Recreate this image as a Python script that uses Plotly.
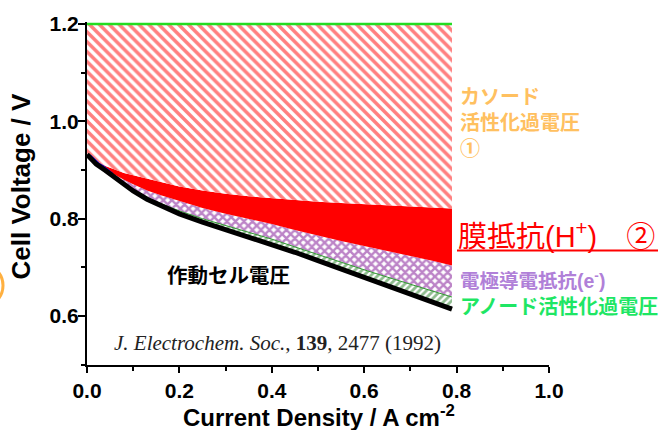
import plotly.graph_objects as go

# ---------------- data ----------------
current_density = [0, 0.01, 0.02, 0.04, 0.06, 0.08, 0.10, 0.13, 0.16, 0.20, 0.25,
                   0.30, 0.35, 0.40, 0.45, 0.50, 0.55, 0.60, 0.65, 0.70, 0.75, 0.79]
cell_voltage = [0.932, 0.921, 0.912, 0.899, 0.884, 0.870, 0.857, 0.840, 0.826, 0.810, 0.793,
                0.778, 0.763, 0.748, 0.731, 0.714, 0.697, 0.680, 0.663, 0.646, 0.629, 0.614]
anode_top = [0.932, 0.922, 0.913, 0.900, 0.886, 0.872, 0.860, 0.844, 0.831, 0.816, 0.800,
             0.786, 0.772, 0.758, 0.742, 0.726, 0.710, 0.695, 0.680, 0.665, 0.651, 0.639]
electrode_top = [0.932, 0.922, 0.913, 0.901, 0.890, 0.880, 0.871, 0.858, 0.848, 0.836, 0.822,
                 0.810, 0.800, 0.789, 0.777, 0.765, 0.754, 0.744, 0.734, 0.724, 0.713, 0.704]
membrane_top = [0.932, 0.925, 0.918, 0.908, 0.901, 0.894, 0.889, 0.882, 0.875, 0.866, 0.858,
                0.851, 0.846, 0.842, 0.838, 0.835, 0.832, 0.830, 0.828, 0.826, 0.823, 0.821]
theoretical_voltage = [1.2] * len(current_density)

blue_x = [0.006, 0.015, 0.025, 0.035, 0.045, 0.055]
blue_v = [0.930, 0.921, 0.913, 0.907, 0.899, 0.892]

x_tickvals = [0.0, 0.2, 0.4, 0.6, 0.8, 1.0]
x_ticktext = ["0.0", "0.2", "0.4", "0.6", "0.8", "1.0"]
y_tickvals = [0.6, 0.8, 1.0, 1.2]
y_ticktext = ["0.6", "0.8", "1.0", "1.2"]

# ---------------- layout helpers ----------------
L, R, T, B = 87, 112, 22, 65
W, H = 661, 430
PW, PH = W - L - R, H - T - B


def px(p):
    return (p - L) / PW


def py(p):
    return (H - B - p) / PH


SANS = "Liberation Sans, Arial, Noto Sans CJK JP, sans-serif"
CJK = "Liberation Sans, Noto Sans CJK JP, sans-serif"
SERIF = "Liberation Serif, Times New Roman, serif"

fig = go.Figure()

# base (cell voltage) - invisible, used as fill reference
fig.add_trace(go.Scatter(x=current_density, y=cell_voltage, mode="lines",
                         line=dict(width=0, color="black"), hoverinfo="skip", showlegend=False))
# anode activation overpotential
fig.add_trace(go.Scatter(x=current_density, y=anode_top, mode="lines", fill="tonexty",
                         line=dict(width=1, color="#2E9B2E"),
                         fillcolor="rgba(255,255,255,0)",
                         fillpattern=dict(shape="/", fgcolor="#1E7A1E", bgcolor="white",
                                          size=5, solidity=0.55),
                         hoverinfo="skip", showlegend=False))
# electrode conduction resistance
fig.add_trace(go.Scatter(x=current_density, y=electrode_top, mode="lines", fill="tonexty",
                         line=dict(width=0, color="#7A0A90"),
                         fillcolor="rgba(255,255,255,0)",
                         fillpattern=dict(shape="x", fgcolor="#7A0A90", bgcolor="white",
                                          size=6, solidity=0.65),
                         hoverinfo="skip", showlegend=False))
# membrane resistance
fig.add_trace(go.Scatter(x=current_density, y=membrane_top, mode="lines", fill="tonexty",
                         line=dict(width=0, color="red"), fillcolor="red",
                         hoverinfo="skip", showlegend=False))
# cathode activation overpotential (hatched)
fig.add_trace(go.Scatter(x=current_density, y=theoretical_voltage, mode="lines", fill="tonexty",
                         line=dict(width=2.5, color="#22DD22"),
                         fillcolor="rgba(255,255,255,0)",
                         fillpattern=dict(shape="\\", fgcolor="#FF0000", bgcolor="white",
                                          size=7, solidity=0.5),
                         hoverinfo="skip", showlegend=False))
# small blue sliver
fig.add_trace(go.Scatter(x=blue_x, y=blue_v, mode="lines",
                         line=dict(width=2.5, color="#1010EE"),
                         hoverinfo="skip", showlegend=False))
# working cell voltage curve
fig.add_trace(go.Scatter(x=current_density, y=cell_voltage, mode="lines",
                         line=dict(width=5, color="black"),
                         hoverinfo="skip", showlegend=False))

axis_common = dict(showgrid=False, zeroline=False, showline=True, linecolor="black",
                   linewidth=2, ticks="outside", tickcolor="black", tickwidth=1.5,
                   tickfont=dict(family=SANS, size=21, color="black", weight="bold"))

fig.update_xaxes(range=[0, 1.0], tickvals=x_tickvals, ticktext=x_ticktext, ticklen=6,
                 minor=dict(dtick=0.1, ticklen=4, ticks="outside", tickcolor="black", tickwidth=1.5),
                 **axis_common)
fig.update_yaxes(range=[0.4994, 1.2041], tickvals=y_tickvals, ticktext=y_ticktext, ticklen=7,
                 ticklabelstandoff=-5,
                 minor=dict(tickvals=[0.5, 0.7, 0.9, 1.1], ticklen=4, ticks="outside",
                            tickcolor="black", tickwidth=1.5),
                 **axis_common)

ann = []
ann.append(dict(x=px(20), y=py(186.5), xref="paper", yref="paper", showarrow=False,
                text="<b>Cell Voltage / V</b>", textangle=-90, xanchor="center", yanchor="middle",
                font=dict(family=SANS, size=26, color="black")))
ann.append(dict(x=px(319), y=py(416), xref="paper", yref="paper", showarrow=False,
                text="<b>Current Density / A cm<sup>-2</sup></b>", xanchor="center", yanchor="middle",
                font=dict(family=SANS, size=24, color="black")))
ann.append(dict(x=px(458), y=py(84), xref="paper", yref="paper", showarrow=False,
                text="<b>カソード<br>活性化過電圧<br>①</b>", xanchor="left", yanchor="top", align="left",
                font=dict(family=CJK, size=20, color="#FFC060")))
ann.append(dict(x=px(456), y=py(235), xref="paper", yref="paper", showarrow=False,
                text="膜抵抗(H<sup>+</sup>)　②", xanchor="left", yanchor="middle",
                font=dict(family=CJK, size=29, color="#FF0000")))
ann.append(dict(x=px(458), y=py(280), xref="paper", yref="paper", showarrow=False,
                text="<b>電極導電抵抗(e<sup>-</sup>)</b>", xanchor="left", yanchor="middle",
                font=dict(family=CJK, size=19.5, color="#B080D8")))
ann.append(dict(x=px(458), y=py(306.5), xref="paper", yref="paper", showarrow=False,
                text="<b>アノード活性化過電圧</b>", xanchor="left", yanchor="middle",
                font=dict(family=CJK, size=20, color="#1EE664")))
ann.append(dict(x=px(228.5), y=py(275), xref="paper", yref="paper", showarrow=False,
                text="<b>作動セル電圧</b>", xanchor="center", yanchor="middle",
                font=dict(family=CJK, size=20.5, color="black")))
ann.append(dict(x=px(112), y=py(343), xref="paper", yref="paper", showarrow=False,
                text="<i>J. Electrochem. Soc.</i>, <b>139</b>, 2477 (1992)", xanchor="left", yanchor="middle",
                font=dict(family=SERIF, size=21, color="#222222")))

shapes = [
    dict(type="line", xref="paper", yref="paper", x0=px(457), x1=px(658), y0=py(250.5), y1=py(250.5),
         line=dict(color="#FF0000", width=2)),
    dict(type="circle", xref="paper", yref="paper", x0=px(-40), x1=px(3), y0=py(307), y1=py(264),
         line=dict(color="#FFB040", width=3)),
]

fig.update_layout(width=W, height=H, margin=dict(l=L, r=R, t=T, b=B),
                  paper_bgcolor="white", plot_bgcolor="white",
                  annotations=ann, shapes=shapes, showlegend=False)

fig.write_html("out.html")
